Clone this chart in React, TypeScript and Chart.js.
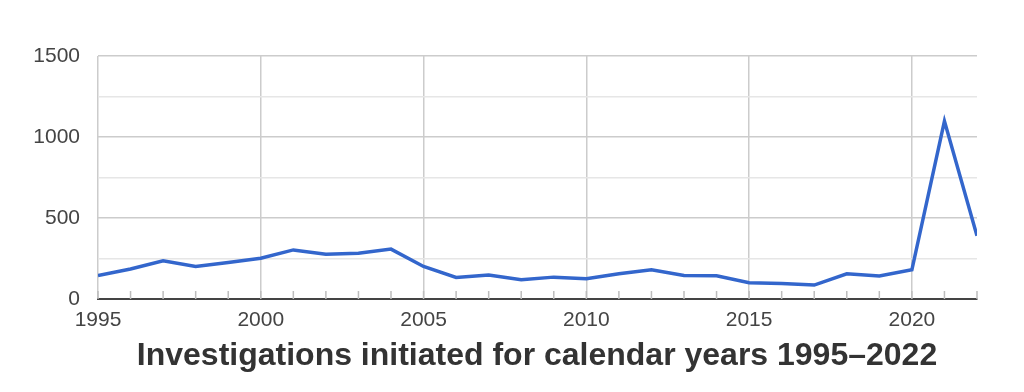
import React, { useEffect, useRef } from "react";
import { Chart, registerables } from "chart.js";

Chart.register(...registerables);

const years = [
  1995, 1996, 1997, 1998, 1999, 2000, 2001, 2002, 2003, 2004, 2005, 2006, 2007, 2008,
  2009, 2010, 2011, 2012, 2013, 2014, 2015, 2016, 2017, 2018, 2019, 2020, 2021, 2022,
];
const investigations = [
  145, 185, 236, 201, 225, 252, 303, 277, 283, 308, 201, 133, 148, 119,
  135, 125, 156, 180, 145, 143, 100, 96, 86, 156, 142, 180, 1098, 390,
];
const xTickLabels = [1995, 2000, 2005, 2010, 2015, 2020];
const yTicks = [0, 250, 500, 750, 1000, 1250, 1500];
const yLabelTicks = [0, 500, 1000, 1500];
const title = "Investigations initiated for calendar years 1995–2022";

const minorTicks = {
  id: "minorTicks",
  beforeDatasetsDraw(chart: any) {
    const { ctx, chartArea, scales } = chart;
    ctx.save();
    ctx.strokeStyle = "#bdbdbd";
    ctx.lineWidth = 1.5;
    for (const yr of years) {
      const x = scales.x.getPixelForValue(yr);
      ctx.beginPath();
      ctx.moveTo(x, chartArea.bottom);
      ctx.lineTo(x, chartArea.bottom - 8);
      ctx.stroke();
    }
    ctx.restore();
  },
};

export default function App() {
  const ref = useRef<HTMLCanvasElement | null>(null);
  useEffect(() => {
    if (!ref.current) return;
    const chart = new Chart(ref.current, {
      type: "line",
      data: {
        datasets: [
          {
            data: years.map((y, i) => ({ x: y, y: investigations[i] })),
            borderColor: "#3366cc",
            backgroundColor: "#3366cc",
            borderWidth: 3.5,
            pointRadius: 0,
            tension: 0,
          },
        ],
      },
      options: {
        animation: false,
        responsive: false,
        maintainAspectRatio: false,
        layout: { padding: { left: 0, right: 47, top: 56, bottom: 0 } },
        plugins: { legend: { display: false }, tooltip: { enabled: false }, title: { display: false } },
        scales: {
          x: {
            type: "linear",
            min: 1995,
            max: 2022,
            afterBuildTicks: (scale: any) => {
              scale.ticks = xTickLabels.map((v) => ({ value: v }));
            },
            afterFit: (scale: any) => {
              scale.height = 93;
            },
            grid: { color: "#cccccc", lineWidth: 1.5, drawTicks: false },
            border: { display: true, color: "#444444", width: 2 },
            ticks: {
              padding: 9,
              color: "#444444",
              font: { family: "'Liberation Sans', Arial, sans-serif", size: 21 },
              maxRotation: 0,
              autoSkip: false,
              callback: (v: any) => String(v),
            },
          },
          y: {
            min: 0,
            max: 1500,
            afterBuildTicks: (scale: any) => {
              scale.ticks = yTicks.map((v) => ({ value: v }));
            },
            afterFit: (scale: any) => {
              scale.width = 98;
            },
            grid: {
              drawTicks: false,
              color: (c: any) => (yLabelTicks.includes(c.tick.value) ? "#cccccc" : "#e6e6e6"),
              lineWidth: 1.5,
            },
            border: { display: false },
            ticks: {
              padding: 18,
              color: "#444444",
              font: { family: "'Liberation Sans', Arial, sans-serif", size: 21 },
              autoSkip: false,
              callback: (v: any) => (yLabelTicks.includes(Number(v)) ? String(v) : ""),
            },
          },
        },
      },
      plugins: [minorTicks],
    });
    return () => chart.destroy();
  }, []);

  return (
    <div style={{ position: "absolute", left: 0, top: 0, width: 1024, height: 392, background: "#fff" }}>
      <canvas ref={ref} width={1024} height={392} style={{ position: "absolute", left: 0, top: 0 }} />
      <div
        style={{
          position: "absolute",
          left: 97,
          width: 880,
          top: 338,
          textAlign: "center",
          fontFamily: "'Liberation Sans Narrow', 'Arial Narrow', sans-serif",
          fontWeight: "bold",
          fontSize: 32,
          lineHeight: "32px",
          color: "#333333",
          whiteSpace: "nowrap",
        }}
      >
        {title}
      </div>
    </div>
  );
}
